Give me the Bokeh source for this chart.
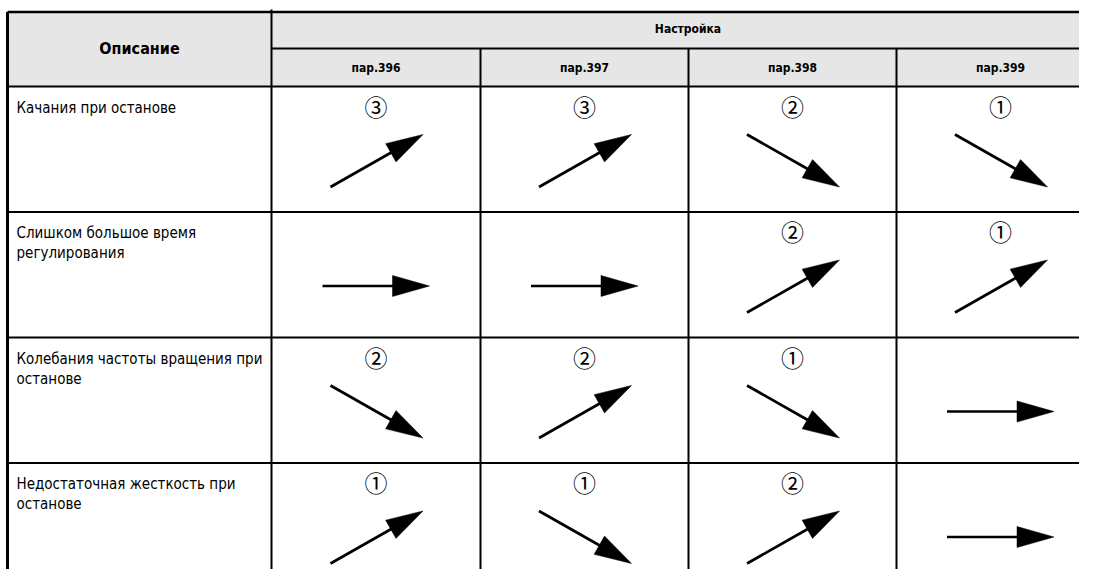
from bokeh.plotting import figure
from bokeh.models import Range1d
from bokeh.embed import file_html
from bokeh.resources import INLINE
from bokeh.core.properties import value
import math

# ---- data ----
header_desc = "Описание"
header_group = "Настройка"
param_labels = ["пар.396", "пар.397", "пар.398", "пар.399"]
row_labels = [
    "Качания при останове",
    "Слишком большое время\nрегулирования",
    "Колебания частоты вращения при\nостанове",
    "Недостаточная жесткость при\nостанове",
]
# direction per cell: "up" (increase), "down" (decrease), "flat" (unchanged)
directions = [
    ["up", "up", "down", "down"],
    ["flat", "flat", "up", "up"],
    ["down", "up", "down", "flat"],
    ["up", "down", "up", "flat"],
]
# order of adjustment (0 = none)
orders = [
    [3, 3, 2, 1],
    [0, 0, 2, 1],
    [2, 2, 1, 0],
    [1, 1, 2, 0],
]
circled = {1: "①", 2: "②", 3: "③"}

# ---- layout (pixels) ----
W, H = 1079, 569
X0, Y0 = 1, 1
X_EDGES = [8, 272, 481, 689, 897, 1105]
Y_TOP, Y_H1, Y_H2 = 12.5, 49, 87
ROW_H = 125.5
Y_ROWS = [Y_H2 + i * ROW_H for i in range(len(row_labels) + 1)]

p = figure(width=W, height=H, output_backend="svg", toolbar_location=None,
           x_range=Range1d(X0, X0 + W), y_range=Range1d(Y0 + H, Y0),
           min_border=0, outline_line_color=None, background_fill_color="white",
           border_fill_color="white")
p.axis.visible = False
p.grid.visible = False

# header background
p.quad(left=[X_EDGES[0]], right=[X_EDGES[-1]], top=[Y_TOP], bottom=[Y_H2],
       fill_color="#e6e6e6", line_color=None)

# grid lines
x0s, y0s, x1s, y1s, ws = [], [], [], [], []
def seg(a, b, c, d, w):
    x0s.append(a); y0s.append(b); x1s.append(c); y1s.append(d); ws.append(w)

seg(X_EDGES[0], Y_TOP, X_EDGES[-1], Y_TOP, 2.5)          # top border
seg(X_EDGES[0], Y_TOP, X_EDGES[0], Y_ROWS[-1], 3)        # left border
seg(X_EDGES[1], 10, X_EDGES[1], Y_ROWS[-1], 2)           # description column
for xe in X_EDGES[2:-1]:
    seg(xe, Y_H1, xe, Y_ROWS[-1], 2)
seg(X_EDGES[1], Y_H1, X_EDGES[-1], Y_H1, 2)
for ye in Y_ROWS[:-1]:
    seg(X_EDGES[0], ye, X_EDGES[-1], ye, 2)
p.segment(x0=x0s, y0=y0s, x1=x1s, y1=y1s, line_width=ws, line_color="black")

font = value("'Liberation Sans Narrow', 'DejaVu Sans Condensed', 'Roboto', sans-serif")

# header texts
p.text(x=[(X_EDGES[0] + X_EDGES[1]) / 2], y=[(Y_TOP + Y_H2) / 2 - 1], text=[header_desc],
       text_font=font, text_font_style="bold", text_font_size="16px",
       text_align="center", text_baseline="middle", text_color="black")
p.text(x=[(X_EDGES[1] + X_EDGES[-1]) / 2], y=[(Y_TOP + Y_H1) / 2 - 1.5], text=[header_group],
       text_font=font, text_font_style="bold", text_font_size="12px",
       text_align="center", text_baseline="middle", text_color="black")
cxs = [(X_EDGES[i + 1] + X_EDGES[i + 2]) / 2 for i in range(len(param_labels))]
p.text(x=cxs, y=[(Y_H1 + Y_H2) / 2] * len(cxs), text=param_labels,
       text_font=font, text_font_style="bold", text_font_size="12px",
       text_align="center", text_baseline="middle", text_color="black")

# row descriptions
p.text(x=[X_EDGES[0] + 9] * len(row_labels), y=[y + 12 for y in Y_ROWS[:-1]], text=row_labels,
       text_font=font, text_font_size="15px", text_align="left", text_baseline="top",
       text_color="black", text_line_height=1.12)

# circled order numbers
nx, ny, nt = [], [], []
for r, row in enumerate(orders):
    for c, o in enumerate(row):
        if o:
            nx.append(cxs[c]); ny.append(Y_ROWS[r] + 19); nt.append(circled[o])
p.text(x=nx, y=ny, text=nt, text_font=value("Noto Sans CJK JP"), text_font_size="23px",
       text_align="center", text_baseline="middle", text_color="black")

# arrows
sx0, sy0, sx1, sy1 = [], [], [], []
hxs, hys = [], []
HEAD_L, HEAD_HW = 37, 10.5
for r, row in enumerate(directions):
    for c, d in enumerate(row):
        cx = cxs[c]
        top = Y_ROWS[r]
        if d == "flat":
            tx, ty, px, py = cx - 53.5, top + 74, cx + 53.5, top + 74
        elif d == "up":
            tx, ty, px, py = cx - 45.5, top + 100.5, cx + 47, top + 48
        else:
            tx, ty, px, py = cx - 45.5, top + 48, cx + 47, top + 100.5
        L = math.hypot(px - tx, py - ty)
        ux, uy = (px - tx) / L, (py - ty) / L
        bx, by = px - HEAD_L * ux, py - HEAD_L * uy
        sx0.append(tx); sy0.append(ty); sx1.append(bx + 2 * ux); sy1.append(by + 2 * uy)
        hxs.append([px, bx - HEAD_HW * uy, bx + HEAD_HW * uy])
        hys.append([py, by + HEAD_HW * ux, by - HEAD_HW * ux])
p.segment(x0=sx0, y0=sy0, x1=sx1, y1=sy1, line_width=2.7, line_color="black")
p.patches(xs=hxs, ys=hys, fill_color="black", line_color="black", line_width=0.5)

open("out.html", "w").write(file_html(p, INLINE))
